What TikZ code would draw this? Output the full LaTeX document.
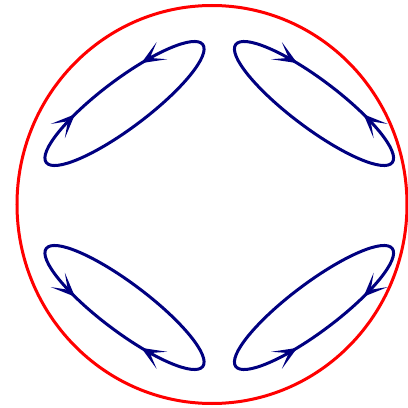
\documentclass[tikz,border=0pt]{standalone}
\usetikzlibrary{arrows.meta,decorations.markings}
\definecolor{cellblue}{RGB}{0,0,128}

\begin{document}
\begin{tikzpicture}[
    x=1pt, y=1pt,
    rim/.style={draw=red, line width=3pt},
    cell/.style 2 args={draw=cellblue, line width=3pt, postaction={decorate},
      decoration={markings,
        mark=at position #1 with {\arrow{Stealth[length=24pt, width=20pt, inset=14pt]}},
        mark=at position #2 with {\arrowreversed{Stealth[length=24pt, width=20pt, inset=14pt]}}}},
  ]
  \useasboundingbox (0,0) rectangle (408,408);

  % outer boundary
  \coordinate (o) at (212,203.5);
  \draw[rim] (o) ellipse [x radius=195, y radius=199];

  % the four cells
  \coordinate (ul) at (124.5,304.5);
  \coordinate (ur) at (314,304.5);
  \coordinate (ll) at (124.5,100.5);
  \coordinate (lr) at (314,100.5);

  \draw[cell={0.16}{0.36}] (ul) ellipse [x radius=98, y radius=24, rotate=37];
  \draw[cell={0.14}{0.34}] (ur) ellipse [x radius=98, y radius=24, rotate=-37];
  \draw[cell={0.14}{0.34}] (ll) ellipse [x radius=98, y radius=24, rotate=143];
  \draw[cell={0.16}{0.36}] (lr) ellipse [x radius=98, y radius=24, rotate=217];
\end{tikzpicture}
\end{document}
